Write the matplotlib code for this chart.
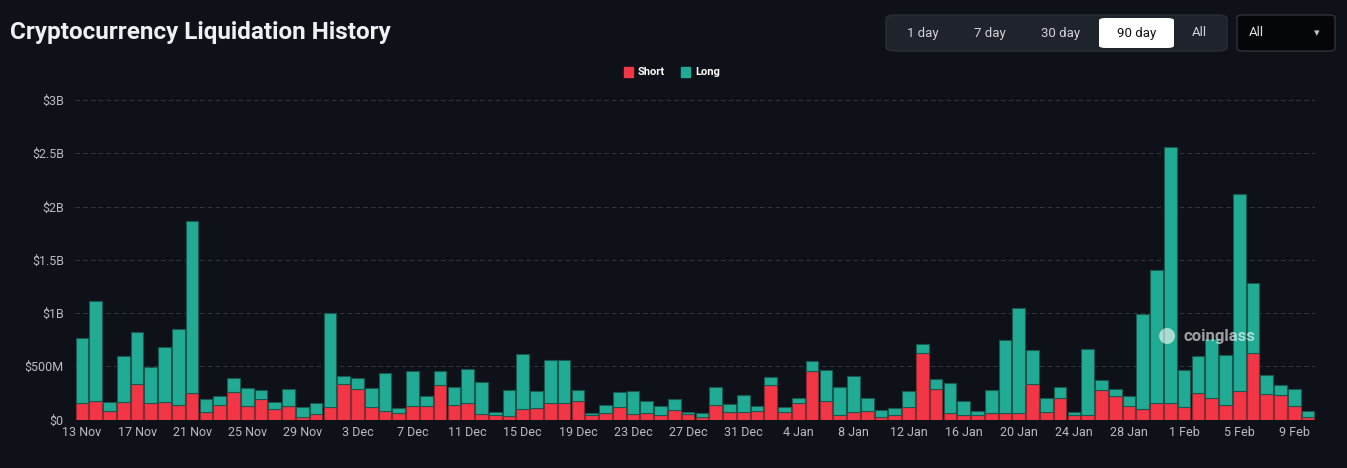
import matplotlib
matplotlib.use("Agg")
import matplotlib.pyplot as plt
from matplotlib.patches import FancyBboxPatch, Rectangle
import numpy as np
import datetime as dt

# ---- data (values in $M) ----
start = dt.date(2024, 11, 13)
dates = [start + dt.timedelta(days=i) for i in range(90)]
date_labels = [f"{d.day} {d.strftime('%b')}" for d in dates]

total = [765, 1116, 166, 594, 825, 497, 678, 850, 1860, 191, 216, 388, 300, 278, 166, 288, 113, 156,
         997, 413, 388, 300, 441, 109, 456, 222, 456, 309, 472, 350, 72, 278, 613, 272, 559, 556,
         278, 63, 134, 256, 263, 178, 131, 194, 69, 63, 303, 147, 228, 125, 397, 119, 203, 547,
         463, 303, 413, 203, 88, 106, 269, 709, 384, 344, 172, 81, 275, 744, 1050, 650, 200, 306,
         69, 659, 375, 284, 219, 994, 1401, 2555, 466, 597, 753, 606, 2113, 1277, 422, 328, 291, 81]
short = [155, 172, 84, 169, 338, 159, 169, 134, 247, 69, 134, 259, 131, 197, 103, 125, 25, 56,
         122, 338, 284, 113, 78, 59, 131, 125, 325, 134, 153, 53, 38, 34, 97, 106, 153, 159,
         178, 41, 59, 122, 56, 63, 44, 91, 47, 28, 134, 75, 72, 78, 328, 66, 153, 453,
         172, 41, 75, 78, 22, 41, 113, 622, 284, 59, 44, 38, 59, 59, 59, 338, 69, 203,
         41, 44, 281, 216, 131, 94, 153, 153, 116, 250, 200, 134, 269, 622, 238, 231, 131, 19]
long_ = [t - s for t, s in zip(total, short)]

yticks = [0, 500, 1000, 1500, 2000, 2500, 3000]
ytick_labels = ["$0", "$500M", "$1B", "$1.5B", "$2B", "$2.5B", "$3B"]
buttons = ["1 day", "7 day", "30 day", "90 day", "All"]

BG = "#0e1118"
RED = "#f23645"
TEAL = "#22ab94"

plt.rcParams['font.family'] = ['Roboto', 'DejaVu Sans']

W, H = 1347, 468
fig = plt.figure(figsize=(W / 100, H / 100), dpi=100, facecolor=BG)

ax = fig.add_axes([75 / W, (H - 419.5) / H, (1315 - 75) / W, (419.5 - 100) / H])
ax.set_facecolor(BG)
x = np.arange(len(dates))
ax.bar(x, short, width=0.92, color=RED, edgecolor="#8a2a33", linewidth=0.8, zorder=3)
ax.bar(x, long_, bottom=short, width=0.92, color=TEAL, edgecolor="#17594f", linewidth=0.8, zorder=3)
ax.set_xlim(-0.5, len(dates) - 0.5)
ax.set_ylim(0, 3000)
ax.set_yticks(yticks)
ax.set_yticklabels(ytick_labels)
ax.set_xticks(x[::4])
ax.set_xticklabels(date_labels[::4])
ax.tick_params(axis='both', length=0, colors="#b8bcc4", labelsize=9)
ax.tick_params(axis='y', pad=8)
ax.tick_params(axis='x', pad=5)
ax.grid(axis='y', color="#2f343d", linestyle=(0, (4, 3)), linewidth=0.8, zorder=0)
for s in ax.spines.values():
    s.set_visible(False)

# watermark
fig.text(1183 / W, 1 - 336 / H, "coinglass", color="white", alpha=0.6, fontsize=12,
         fontweight='bold', va='center', ha='left')
fig.text(1167 / W, 1 - 336 / H, "\u25cf", color="white", alpha=0.6, fontsize=15,
         va='center', ha='center')

# title
fig.text(10 / W, 1 - 32 / H, "Cryptocurrency Liquidation History", color="#eef0f3",
         fontsize=17.5, fontweight='bold', va='center', ha='left')

# legend
fig.patches.append(Rectangle((624 / W, 1 - 77 / H), 9 / W, 10 / H, transform=fig.transFigure,
                             color=RED))
fig.text(638 / W, 1 - 72 / H, "Short", color="white", fontsize=8, fontweight='bold', va='center')
fig.patches.append(Rectangle((681 / W, 1 - 77 / H), 9 / W, 10 / H, transform=fig.transFigure,
                             color=TEAL))
fig.text(695 / W, 1 - 72 / H, "Long", color="white", fontsize=8, fontweight='bold', va='center')

# buttons group
fig.patches.append(FancyBboxPatch((886 / W, 1 - 51 / H), 341 / W, 36 / H,
                                  boxstyle="round,pad=0,rounding_size=0.008",
                                  transform=fig.transFigure, facecolor="#1f232b",
                                  edgecolor="#2a2e36", linewidth=1))
fig.patches.append(FancyBboxPatch((1099 / W, 1 - 48 / H), 75 / W, 30 / H,
                                  boxstyle="round,pad=0,rounding_size=0.005",
                                  transform=fig.transFigure, facecolor="white",
                                  edgecolor="none"))
bx = [923, 990, 1061, 1137, 1199]
for lbl, cx in zip(buttons, bx):
    fig.text(cx / W, 1 - 33 / H, lbl, color="#111111" if lbl == "90 day" else "#d0d3d9",
             fontsize=9.5, va='center', ha='center')

# dropdown
fig.patches.append(FancyBboxPatch((1237 / W, 1 - 51 / H), 98 / W, 36 / H,
                                  boxstyle="round,pad=0,rounding_size=0.005",
                                  transform=fig.transFigure, facecolor="#050608",
                                  edgecolor="#2f333b", linewidth=1))
fig.text(1249 / W, 1 - 33 / H, "All", color="#e0e2e6", fontsize=9.5, va='center', ha='left')
fig.text(1317 / W, 1 - 33 / H, "\u25be", color="#c0c3c8", fontsize=8, va='center', ha='center',
         family=['DejaVu Sans'])

fig.savefig("out.png", dpi=100, facecolor=BG)
